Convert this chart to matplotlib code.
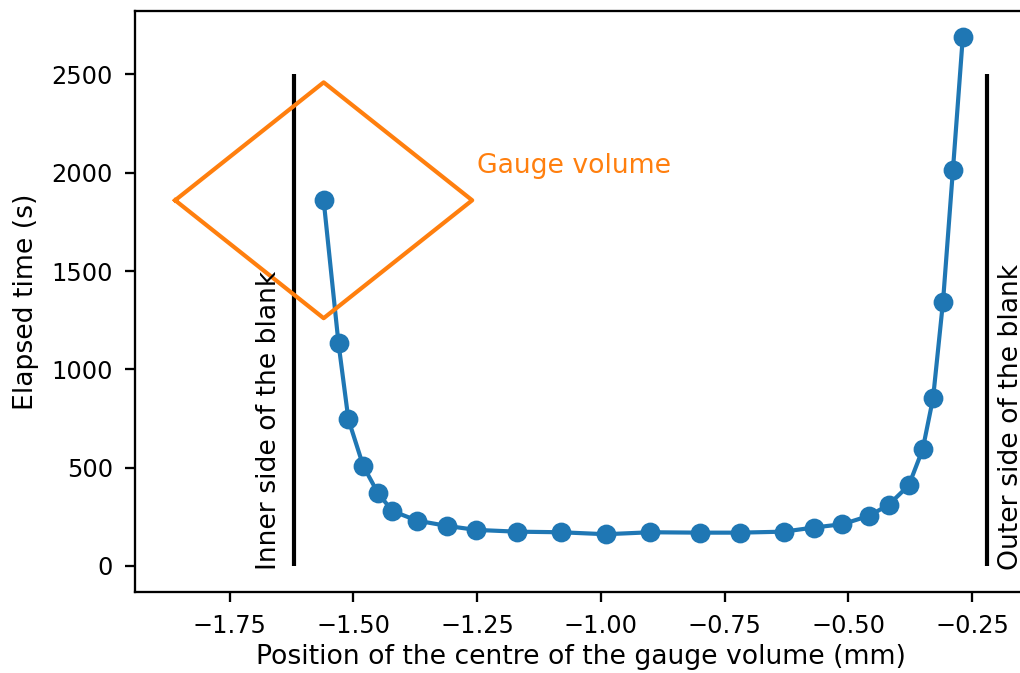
import matplotlib
matplotlib.use("Agg")
import matplotlib.pyplot as plt

# measured positions of the gauge volume centre (mm) and elapsed time (s)
position = [-1.560, -1.530, -1.510, -1.480, -1.450, -1.421, -1.371, -1.310,
            -1.252, -1.170, -1.081, -0.990, -0.900, -0.800, -0.720, -0.631,
            -0.570, -0.512, -0.459, -0.419, -0.378, -0.350, -0.329, -0.309,
            -0.289, -0.269]
elapsed = [1860, 1132, 745, 508, 369, 279, 230, 203,
           183, 174, 171, 161, 171, 169, 169, 174,
           195, 212, 254, 310, 410, 593, 854, 1343,
           2012, 2690]

# blank sides and gauge volume outline
blank_inner = -1.62
blank_outer = -0.22
blank_top = 2500
gauge_x = [-1.86, -1.56, -1.26, -1.56, -1.86]
gauge_y = [1860, 2460, 1860, 1260, 1860]

fs = 12.8

fig = plt.figure(figsize=(1020 / 150, 673 / 150), dpi=150)
ax = fig.add_axes([0.1319, 0.1199, 0.8756, 0.8642])

ax.plot(position, elapsed, "o-", color="C0", lw=2, markersize=8.5)
ax.vlines([blank_inner, blank_outer], 0, blank_top, color="black", lw=2)
ax.plot(gauge_x, gauge_y, color="C1", lw=2)

ax.text(-1.25, 2000, "Gauge volume", color="C1", fontsize=fs)
ax.text(blank_inner - 0.025, -20, "Inner side of the blank", rotation=90,
        ha="right", va="bottom", fontsize=fs)
ax.text(blank_outer + 0.022, -20, "Outer side of the blank", rotation=90,
        ha="left", va="bottom", fontsize=fs)

for spine in ax.spines.values():
    spine.set_linewidth(1.1)
ax.tick_params(labelsize=11.5, length=4.8, width=1.1, pad=5.5)
ax.set_xlabel("Position of the centre of the gauge volume (mm)", fontsize=fs,
              labelpad=3)
ax.set_ylabel("Elapsed time (s)", fontsize=fs, labelpad=6)

fig.savefig("out.png", dpi=150)
